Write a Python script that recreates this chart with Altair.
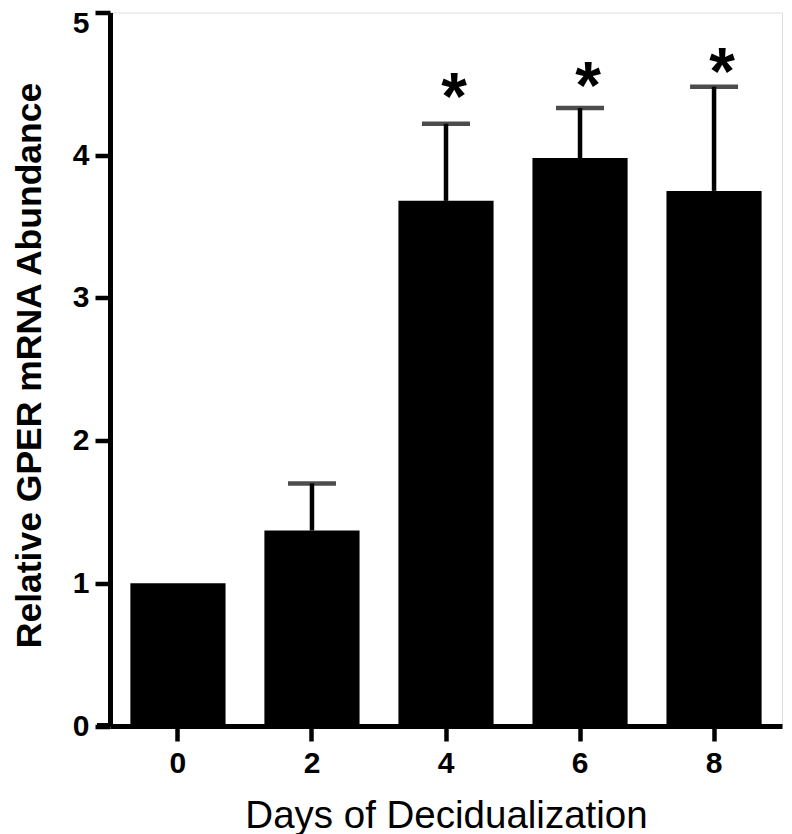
import altair as alt
import pandas as pd

days = ["0", "2", "4", "6", "8"]
means = [1.0, 1.37, 3.68, 3.98, 3.75]
upper = [1.0, 1.70, 4.22, 4.33, 4.48]
star_days = ["4", "6", "8"]
star_y = [4.51, 4.59, 4.685]
y_ticks = [0, 1, 2, 3, 4, 5]

df = pd.DataFrame({"day": days, "mean": means, "upper": upper})
err_df = df[df["upper"] > df["mean"]]
stars = pd.DataFrame({"day": star_days, "y": star_y, "label": ["*"] * len(star_days)})

W, H = 672, 713.5
FONT = "Liberation Sans"

xscale = alt.Scale(domain=days, paddingInner=0.29, paddingOuter=0.152)
yscale = alt.Scale(domain=[0, 5], nice=False, zero=True)

xaxis = alt.Axis(
    title="Days of Decidualization",
    titleFont=FONT, titleFontSize=38.5, titleFontWeight="normal", titleColor="black",
    titleBaseline="alphabetic", titleY=101,
    labelFont=FONT, labelFontSize=30, labelFontWeight="bold", labelColor="black",
    labelAngle=0, labelPadding=7,
    domainColor="black", domainWidth=5, tickColor="black", tickWidth=4.5, tickSize=15,
    grid=False,
)
yaxis = alt.Axis(
    title="Relative GPER mRNA Abundance",
    titleFont=FONT, titleFontSize=35.5, titleFontWeight="bold", titleColor="black",
    titleBaseline="alphabetic", titleAngle=-90, titleX=-70, titleY=352.5,
    titleAlign="center",
    labelFont=FONT, labelFontSize=30, labelFontWeight="bold", labelColor="black",
    labelPadding=6, values=y_ticks, format="d",
    labelBaseline={"condition": {"test": "datum.value == 5", "value": "top"}, "value": "middle"},
    labelOffset={"condition": {"test": "datum.value == 5", "value": -4}, "value": 0},
    domainColor="black", domainWidth=5, tickColor="black", tickWidth=4.5, tickSize=15,
    grid=False,
)

base = alt.Chart(df)

bars = base.mark_bar(color="black").encode(
    x=alt.X("day:N", scale=xscale, axis=xaxis, sort=days),
    y=alt.Y("mean:Q", scale=yscale, axis=yaxis),
)

stems = alt.Chart(err_df).mark_rule(color="black", strokeWidth=4.5).encode(
    x=alt.X("day:N", scale=xscale, sort=days),
    y="mean:Q",
    y2="upper:Q",
)

caps = alt.Chart(err_df).mark_tick(color="black", size=48, thickness=4.5, orient="horizontal").encode(
    x=alt.X("day:N", scale=xscale, sort=days),
    y="upper:Q",
)

star_text = alt.Chart(stars).mark_text(
    font=FONT, fontSize=66, fontWeight="bold", color="black",
    align="center", baseline="alphabetic", dx=8, dy=37,
).encode(
    x=alt.X("day:N", scale=xscale, sort=days),
    y="y:Q",
    text="label:N",
)

ext = alt.Chart(df).mark_rule(color="black", strokeWidth=5).encode(
    x=alt.value(-13), x2=alt.value(0), y=alt.value(H)
)

chart = alt.layer(bars, stems, caps, star_text, ext).properties(
    width=W, height=H,
    autosize=alt.AutoSizeParams(type="none"),
    padding={"left": 102, "top": 4.5, "right": 2, "bottom": 110},
).configure_view(stroke=None).configure(background="white")

chart.save("out.html", embed_options={"renderer": "svg", "actions": False})
